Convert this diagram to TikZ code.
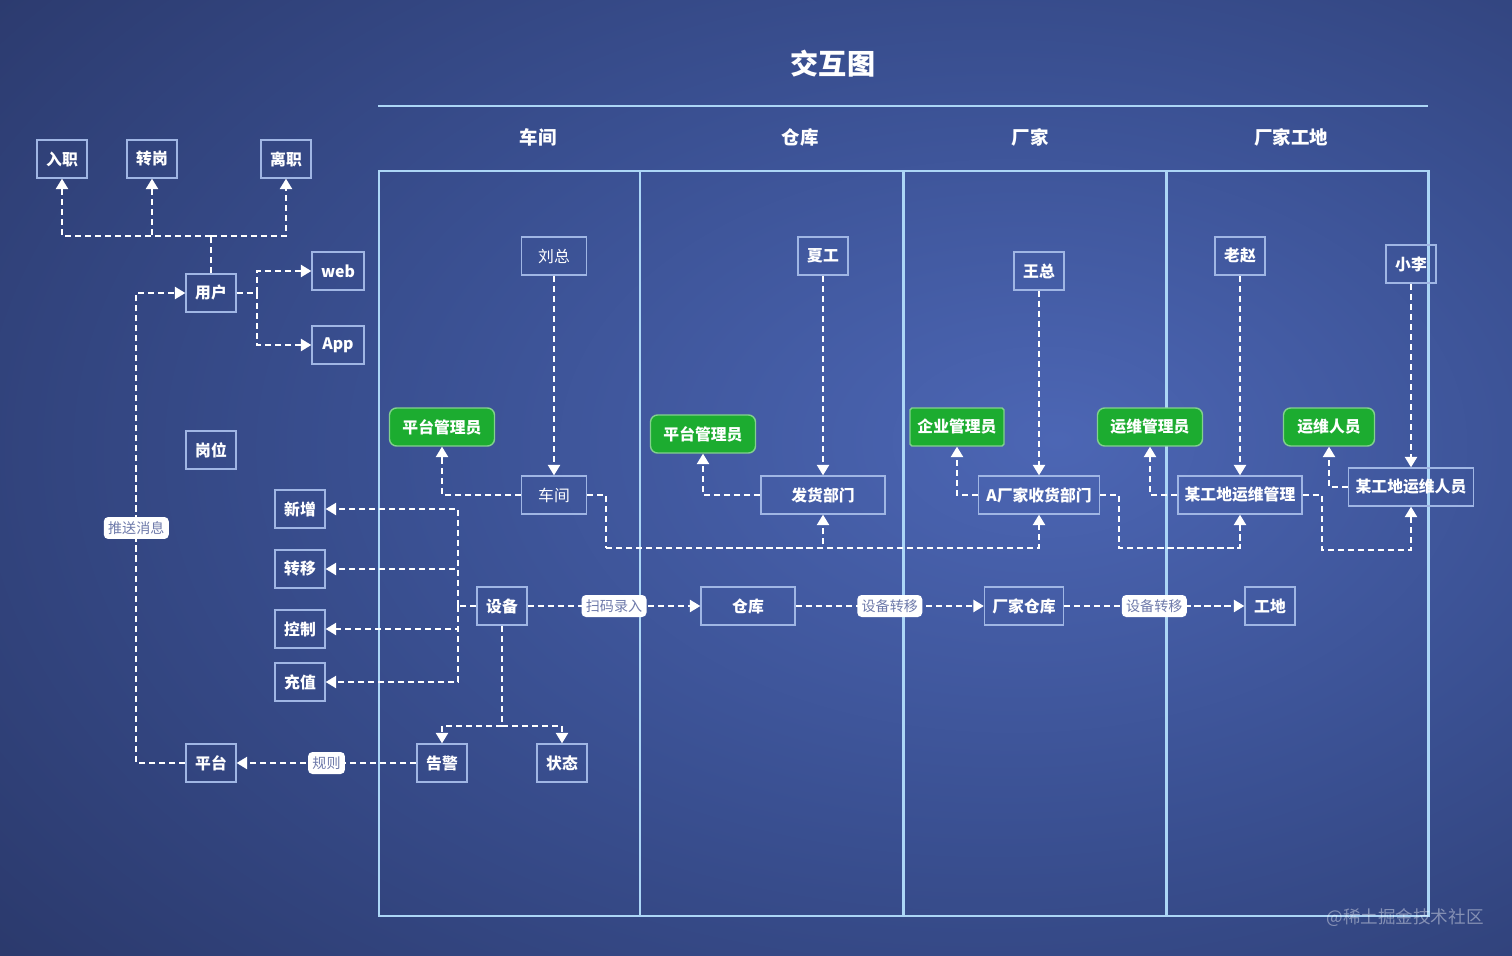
\documentclass[tikz,border=0pt]{standalone}
\usepackage{fontspec}
\setmainfont{Noto Sans CJK SC}
\usetikzlibrary{arrows.meta}
\definecolor{bgout}{RGB}{42,56,106}
\definecolor{bgmid}{RGB}{58,80,146}
\definecolor{bgin}{RGB}{76,102,180}
\definecolor{lane}{RGB}{172,214,246}
\definecolor{boxline}{RGB}{160,182,228}
\definecolor{adm}{RGB}{28,172,48}
\definecolor{tagtext}{RGB}{110,122,170}
\pgfdeclareradialshading{bgshade}{\pgfpoint{10bp}{2bp}}{color(0bp)=(bgin); color(20bp)=(bgmid); color(42bp)=(bgout); color(100bp)=(bgout)}
\begin{document}
\begin{tikzpicture}[x=0.02cm,y=-0.02cm,
  box/.style={draw=boxline,line width=0.8pt,minimum width=1cm,minimum height=0.76cm,inner sep=1pt,text=white,font=\bfseries\fontsize{9}{10}\selectfont},
  plainbox/.style={box,font=\fontsize{9}{10}\selectfont},
  admin/.style={box,fill=adm,draw=adm!55!white,rounded corners=4pt,minimum width=2.1cm},
  link/.style={draw=white,line width=1.1pt,dash pattern=on 3.5pt off 2.2pt},
  flow/.style={link,-{Triangle[width=7pt,length=6pt]}},
  tag/.style={fill=white,rounded corners=2.5pt,text=tagtext,font=\fontsize{8}{9}\selectfont,inner sep=2.5pt,minimum height=0.44cm},
  lanes/.style={draw=lane,line width=1.7pt},
  head/.style={text=white,font=\bfseries\fontsize{10.5}{12}\selectfont}]
\useasboundingbox (0,0) rectangle (1512,956);
\shade[shading=bgshade] (0,0) rectangle (1512,956);

\node[text=white,font=\bfseries\fontsize{16}{18}\selectfont](title) at (833,64){交互图};
\draw[lanes](378,106)--(1428,106);
\draw[lanes](379,171) rectangle (1428,916);
\foreach \x in {640,903,1166}\draw[lanes](\x,171)--(\x,916);
\node[head](h1) at (538,137){车间};
\node[head](h2) at (800,137){仓库};
\node[head](h3) at (1030,137){厂家};
\node[head](h4) at (1291,137){厂家工地};

\node[box](ruzhi) at (62,159){入职};
\node[box](zhuangang) at (152,159){转岗};
\node[box](lizhi) at (286,159){离职};
\node[box](user) at (211,293){用户};
\node[box,minimum width=1.04cm](web) at (338,271){web};
\node[box,minimum width=1.04cm](app) at (338,345){App};
\node[box](gangwei) at (211,450){岗位};
\node[box](xinzeng) at (300,509){新增};
\node[box](zhuanyi) at (300,569){转移};
\node[box](kongzhi) at (300,629){控制};
\node[box](chongzhi) at (300,682){充值};
\node[box](plat) at (211,763){平台};

\node[plainbox,minimum width=1.3cm](liu) at (554,256){刘总};
\node[plainbox,minimum width=1.3cm](shop) at (554,495){车间};
\node[admin](adm1) at (442,427){平台管理员};
\node[box](dev) at (502,606){设备};
\node[box](alarm) at (442,763){告警};
\node[box](state) at (562,763){状态};

\node[box](xia) at (823,256){夏工};
\node[box,minimum width=2.48cm](ship) at (823,495){发货部门};
\node[admin](adm2) at (703,434){平台管理员};
\node[box,minimum width=1.88cm](wh) at (748,606){仓库};

\node[box](wang) at (1039,271){王总};
\node[box,minimum width=2.42cm](recv) at (1039,495){A厂家收货部门};
\node[admin,rounded corners=1pt,minimum width=1.88cm](adm3) at (957,427){企业管理员};
\node[box,minimum width=1.58cm](fwh) at (1024,606){厂家仓库};

\node[box](zhao) at (1240,256){老赵};
\node[box,minimum width=2.48cm](site) at (1240,495){某工地运维管理};
\node[admin](adm4) at (1150,427){运维管理员};
\node[box](li) at (1411,264){小李};
\node[box,minimum width=2.5cm](crew) at (1411,487){某工地运维人员};
\node[admin,minimum width=1.82cm](adm5) at (1329,427){运维人员};
\node[box](gd) at (1270,606){工地};

\draw[link](user.north)--++(0,-37)coordinate(ut);
\draw[flow](ut)-|(ruzhi.south);
\draw[flow](ut)-|(zhuangang.south);
\draw[flow](ut)-|(lizhi.south);
\draw[link](user.east)--++(20,0)coordinate(ur);
\draw[flow](ur)|-(web.west);
\draw[flow](ur)|-(app.west);
\draw[flow](plat.west)--++(-49,0)|-node[tag,pos=0.25](push){推送消息}(user.west);
\draw[flow](alarm.west)--node[tag](rule){规则}(plat.east);

\draw[link](dev.west)--++(-18,0)coordinate(dl);
\foreach \n in {xinzeng,zhuanyi,kongzhi,chongzhi}\draw[flow](dl)|-(\n.east);
\draw[link](dev.south)--++(0,100)coordinate(db);
\draw[flow](db)-|(alarm.north);
\draw[flow](db)-|(state.north);
\draw[flow](dev.east)--node[tag](scan){扫码录入}(wh.west);
\draw[flow](wh.east)--node[tag](mv1){设备转移}(fwh.west);
\draw[flow](fwh.east)--node[tag](mv2){设备转移}(gd.west);

\draw[flow](liu)--(shop);
\draw[flow](shop.west)-|(adm1.south);
\draw[link](shop.east)--++(19,0)--++(0,53)coordinate(sb);
\draw[flow](sb)-|(ship.south);
\draw[flow](sb)-|(recv.south);
\draw[flow](xia)--(ship);
\draw[flow](ship.west)-|(adm2.south);
\draw[flow](wang)--(recv);
\draw[flow](recv.west)-|(adm3.south);
\draw[flow](recv.east)--++(19,0)--++(0,53)-|(site.south);
\draw[flow](zhao)--(site);
\draw[flow](site.west)-|(adm4.south);
\draw[flow](site.east)--++(19,0)--++(0,55)-|(crew.south);
\draw[flow](li)--(crew);
\draw[flow](crew.west)-|(adm5.south);

\node[text=white,opacity=0.4,font=\fontsize{10}{12}\selectfont](mark) at (1405,918){@稀土掘金技术社区};
\end{tikzpicture}
\end{document}
